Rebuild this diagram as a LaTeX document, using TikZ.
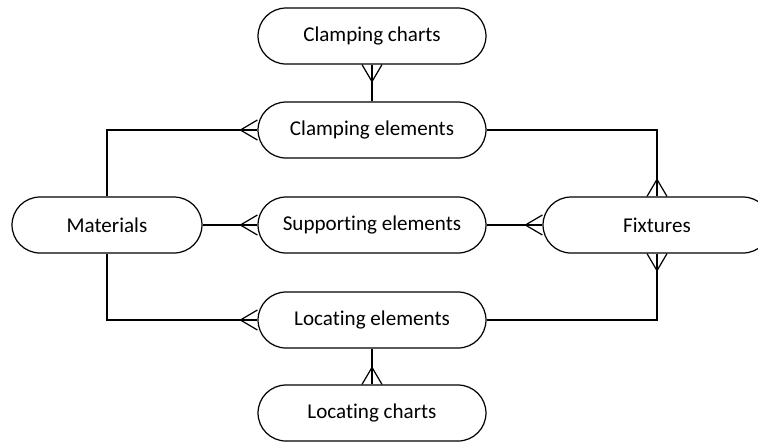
\documentclass[tikz,border=0pt]{standalone}
\usepackage{fontspec}
\setmainfont[Ligatures=NoCommon]{Carlito}
\usepackage{tikz}
\usetikzlibrary{calc}

\tikzset{
  entity/.style={draw, line width=0.7pt, rounded corners=0.56cm, inner sep=0pt,
    minimum width=4.56cm, minimum height=1.12cm, font=\fontsize{12}{14}\selectfont},
  link/.style={line width=0.7pt},
  crow/.pic={\draw[link] (0,10) -- (-17,0) -- (0,-10);}
}

\begin{document}
\begin{tikzpicture}[x=0.02cm,y=-0.02cm]
\clip (0,0) rectangle (758,441);
\node[entity] (cc) at (372,36) {Clamping charts};
\node[entity] (ce) at (372,130) {Clamping elements};
\node[entity, minimum width=3.8cm] (ma) at (107,225) {Materials};
\node[entity] (se) at (372,225) {Supporting elements};
\node[entity] (fx) at (657,225) {Fixtures};
\node[entity] (le) at (372,320) {Locating elements};
\node[entity] (lc) at (372,413) {Locating charts};
% connectors
\draw[link] (cc.south) -- (ce.north);
\draw[link] (ma.north) |- (ce.west);
\draw[link] (ma.east) -- (se.west);
\draw[link] (ma.south) |- (le.west);
\draw[link] (ce.east) -| (fx.north);
\draw[link] (se.east) -- (fx.west);
\draw[link] (le.east) -| (fx.south);
\draw[link] (le.south) -- (lc.north);
% crow's feet
\pic[rotate=90] at (cc.south) {crow};
\pic at (ce.west) {crow};
\pic at (se.west) {crow};
\pic at (le.west) {crow};
\pic[rotate=-90] at (fx.north) {crow};
\pic at (fx.west) {crow};
\pic[rotate=90] at (fx.south) {crow};
\pic[rotate=-90] at (lc.north) {crow};
\end{tikzpicture}
\end{document}
